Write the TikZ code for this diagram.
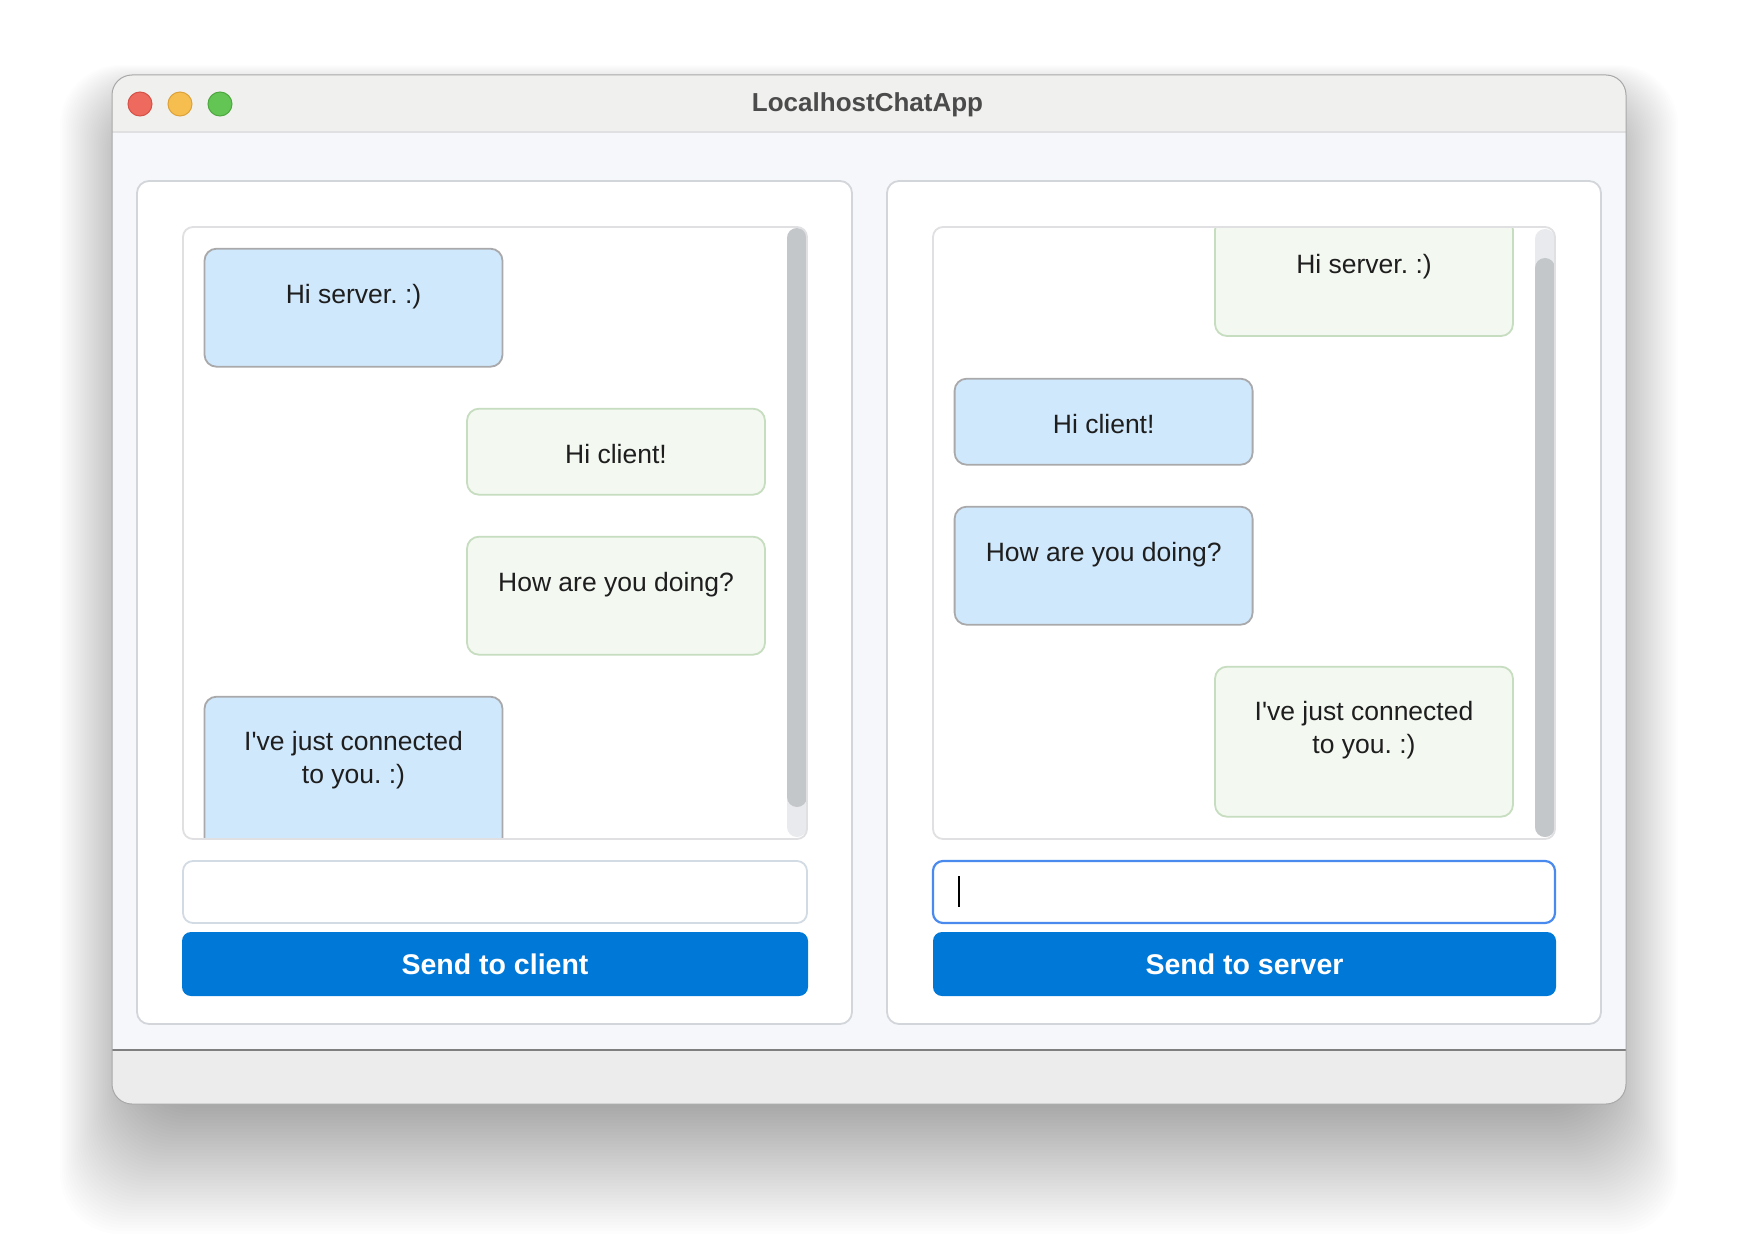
\documentclass[tikz,border=0pt]{standalone}
\usepackage{fontspec}
\newfontfamily\uifont{Liberation Sans}
\usetikzlibrary{positioning}
\frenchspacing

\definecolor{shellgray}{HTML}{F0F0EE}
\definecolor{paneback}{HTML}{F5F7FA}
\definecolor{panelline}{HTML}{D2D5DA}
\definecolor{listline}{HTML}{E0E0E2}
\definecolor{bluefill}{HTML}{D0E8FC}
\definecolor{blueline}{HTML}{A9A9AB}
\definecolor{greenfill}{HTML}{F3F8F1}
\definecolor{greenline}{HTML}{C6DDBF}
\definecolor{thumbgray}{HTML}{C4C7CA}
\definecolor{trackgray}{HTML}{E9EAED}
\definecolor{btnblue}{HTML}{0078D7}
\definecolor{fieldline}{HTML}{D2DBE3}
\definecolor{focusblue}{HTML}{4A8AEF}
\definecolor{footgray}{HTML}{ECECEC}
\definecolor{footline}{HTML}{7F7F7F}
\definecolor{titleink}{HTML}{4B4B4B}
\definecolor{msgink}{HTML}{1E1E1E}
\definecolor{winline}{HTML}{A8A8A8}

\begin{document}
\begin{tikzpicture}[x=1pt,y=-1pt,
    every node/.style={inner sep=0pt, outer sep=0pt},
    light/.style={circle, minimum size=24pt, line width=1pt},
    inmsg/.style={draw=blueline, fill=bluefill, line width=1.8pt, rounded corners=12pt, minimum width=298pt, anchor=north west},
    outmsg/.style={draw=greenline, fill=greenfill, line width=1.8pt, rounded corners=12pt, minimum width=298pt, anchor=north west},
    msgtext/.style={anchor=base, text=msgink, font=\uifont\fontsize{26.5}{33}\selectfont},
    field/.style={draw=fieldline, fill=white, line width=1.8pt, rounded corners=10pt, minimum height=62pt, anchor=north west},
    sendbtn/.style={fill=btnblue, rounded corners=9pt, minimum height=64pt, anchor=north west, text=white, font=\uifont\bfseries\fontsize{28.5}{34}\selectfont}]
    \useasboundingbox (0,0) rectangle (1738,1252);
    \fill[white] (0,0) rectangle (1738,1252);

    % Shadow under the window
    \foreach \s in {1,...,50}
        \fill[black, opacity=0.008, rounded corners=60pt] (150-\s*1.8,115-\s) rectangle (1588+\s*1.8,1084+\s*3);

    % Window
    \fill[paneback, rounded corners=20pt] (112,75) rectangle (1626,1104);
    \begin{scope}
        \clip[rounded corners=20pt] (112,75) rectangle (1626,1104);
        \fill[shellgray] (112,75) rectangle (1626,132);
        \fill[footgray] (112,1050) rectangle (1626,1104);
    \end{scope}
    \draw[listline, line width=1.5pt] (112,132) -- (1626,132);
    \draw[footline, line width=1.2pt] (112,1050) -- (1626,1050);
    \draw[winline, line width=1pt, rounded corners=20pt] (112,75) rectangle (1626,1104);

    % Title bar
    \node (close) at (140,104) [light, fill={rgb,255:red,238;green,106;blue,95}, draw={rgb,255:red,214;green,82;blue,72}] {};
    \node (mini)  at (180,104) [light, fill={rgb,255:red,246;green,190;blue,79}, draw={rgb,255:red,221;green,162;blue,58}] {};
    \node (zoom)  at (220,104) [light, fill={rgb,255:red,98;green,197;blue,84}, draw={rgb,255:red,78;green,168;blue,63}] {};
    \node (title) at (867.5,111.7) [anchor=base, text=titleink, font=\uifont\bfseries\fontsize{26}{30}\selectfont] {LocalhostChatApp};

    % Client side
    \draw[panelline, fill=white, line width=1.8pt, rounded corners=12pt] (137,181) rectangle (852,1024);
    \fill[white, rounded corners=10pt] (183,227) rectangle (807,839);
    \begin{scope}
        \clip[rounded corners=10pt] (183,227) rectangle (807,839);
        \node (c1) at (204.5,248.7) [inmsg, minimum height=118pt] {};
        \node (c1t) at (353.5,303.2) [msgtext] {Hi server. :)};
        \node (c2) at (467,408.7) [outmsg, minimum height=86pt] {};
        \node (c2t) at (616,463.2) [msgtext] {Hi client!};
        \node (c3) at (467,536.7) [outmsg, minimum height=118pt] {};
        \node (c3t) at (616,591.2) [msgtext] {How are you doing?};
        \node (c4) at (204.5,696.7) [inmsg, minimum height=160pt] {};
        \node (c4t) at (353.5,750.7) [msgtext] {I've just connected};
        \node (c4u) at (353.5,783.4) [msgtext] {to you. :)};
        % scroll bar
        \fill[trackgray, rounded corners=10pt] (787,228) rectangle (807,837);
        \fill[thumbgray, rounded corners=10pt] (787,228) rectangle (807,807);
    \end{scope}
    \draw[listline, line width=1.8pt, rounded corners=10pt] (183,227) rectangle (807,839);
    \node (cfield) at (183,861) [field, minimum width=624pt] {};
    \node (csend) at (182,932) [sendbtn, minimum width=626pt] {Send to client};

    % Server side
    \begin{scope}[xshift=750pt]
        \draw[panelline, fill=white, line width=1.8pt, rounded corners=12pt] (137,181) rectangle (851,1024);
        \fill[white, rounded corners=10pt] (183,227) rectangle (805,839);
        \begin{scope}
            \clip[rounded corners=10pt] (183,227) rectangle (805,839);
            \node (s1) at (465,218) [outmsg, minimum height=118pt] {};
            \node (s1t) at (614,273.5) [msgtext] {Hi server. :)};
            \node (s2) at (204.6,378.7) [inmsg, minimum height=86pt] {};
            \node (s2t) at (353.7,433.2) [msgtext] {Hi client!};
            \node (s3) at (204.6,506.7) [inmsg, minimum height=118pt] {};
            \node (s3t) at (353.7,561.2) [msgtext] {How are you doing?};
            \node (s4) at (465,666.7) [outmsg, minimum height=150pt] {};
            \node (s4t) at (614,720.7) [msgtext] {I've just connected};
            \node (s4u) at (614,753.4) [msgtext] {to you. :)};
            % scroll bar
            \fill[trackgray, rounded corners=10pt] (785,229) rectangle (805,837);
            \fill[thumbgray, rounded corners=10pt] (785,258) rectangle (805,837);
        \end{scope}
        \draw[listline, line width=1.8pt, rounded corners=10pt] (183,227) rectangle (805,839);
        \node (sfield) at (183,861) [field, draw=focusblue, line width=2.2pt, minimum width=622pt] {};
        \draw[line width=1.6pt] (209,876) -- (209,907);
        \node (ssend) at (183,932) [sendbtn, minimum width=623pt] {Send to server};
    \end{scope}

\end{tikzpicture}
\end{document}
